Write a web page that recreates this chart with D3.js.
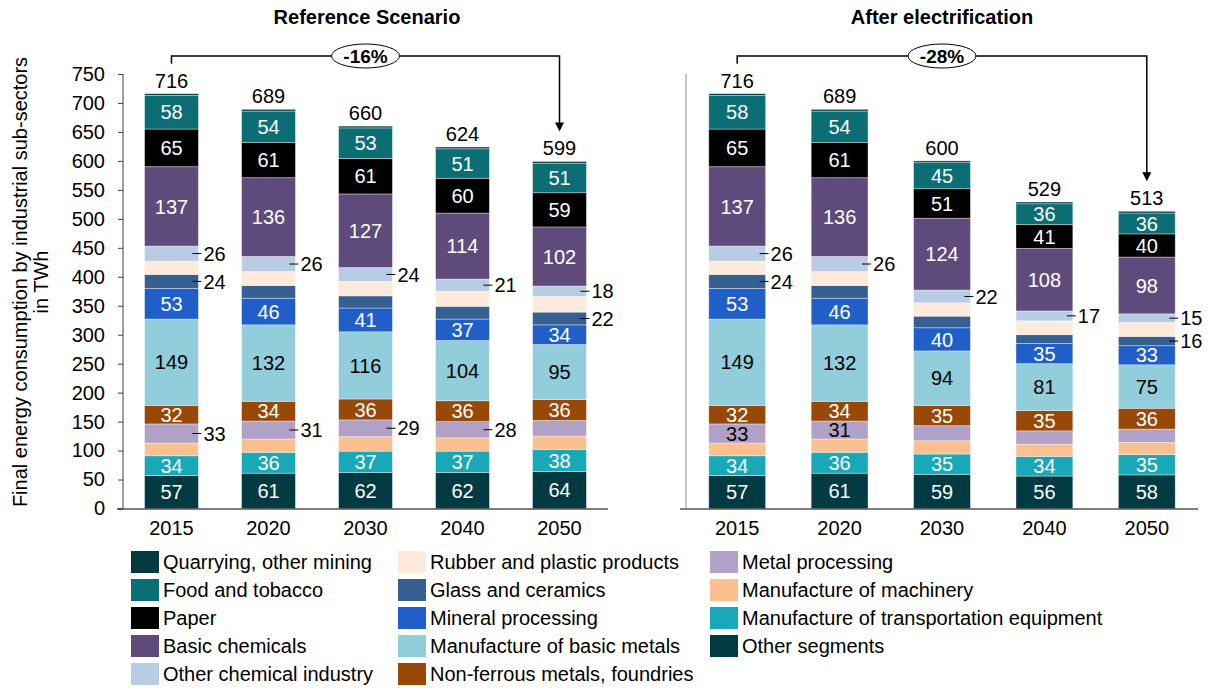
<!DOCTYPE html>
<html>
<head>
<meta charset="utf-8">
<script src="https://cdn.jsdelivr.net/npm/d3@7"></script>
<style>
  html, body { margin: 0; padding: 0; background: #fff; }
  svg { display: block; font-family: "Liberation Sans", Arial, sans-serif; }
</style>
</head>
<body>
<svg id="chart" width="1212" height="689"></svg>
<script>
// ---------------- DATA ----------------
const years = ["2015", "2020", "2030", "2040", "2050"];

// stacking order, bottom -> top
const seriesNames = [
  "Other segments",
  "Manufacture of transportation equipment",
  "Manufacture of machinery",
  "Metal processing",
  "Non-ferrous metals, foundries",
  "Manufacture of basic metals",
  "Mineral processing",
  "Glass and ceramics",
  "Rubber and plastic products",
  "Other chemical industry",
  "Basic chemicals",
  "Paper",
  "Food and tobacco",
  "Quarrying, other mining"
];

const seriesColors = [
  "#023a42", "#19a8b7", "#fac090", "#b2a1c7", "#984807", "#92cddc", "#1f5fc7",
  "#366092", "#fdeada", "#b8cce4", "#5f4b7b", "#000000", "#0b6e74", "#033a40"
];

// legend order (column-major, 3 columns of 5)
const legendOrder = [
  "Quarrying, other mining", "Food and tobacco", "Paper", "Basic chemicals", "Other chemical industry",
  "Rubber and plastic products", "Glass and ceramics", "Mineral processing", "Manufacture of basic metals", "Non-ferrous metals, foundries",
  "Metal processing", "Manufacture of machinery", "Manufacture of transportation equipment", "Other segments"
];

// Reference scenario, one row per series (stack order), one column per year
const refValues = [
  [57, 61, 62, 62, 64],
  [34, 36, 37, 37, 38],
  [22, 23, 25, 23, 23],
  [33, 31, 29, 28, 27],
  [32, 34, 36, 36, 36],
  [149, 132, 116, 104, 95],
  [53, 46, 41, 37, 34],
  [24, 22, 21, 22, 22],
  [23, 24, 25, 26, 27],
  [26, 26, 24, 21, 18],
  [137, 136, 127, 114, 102],
  [65, 61, 61, 60, 59],
  [58, 54, 53, 51, 51],
  [3, 3, 3, 3, 3]
];

// After electrification
const elecValues = [
  [57, 61, 59, 56, 58],
  [34, 36, 35, 34, 35],
  [22, 23, 23, 21, 21],
  [33, 31, 26, 23, 23],
  [32, 34, 35, 35, 36],
  [149, 132, 94, 81, 75],
  [53, 46, 40, 35, 33],
  [24, 22, 20, 15, 16],
  [23, 24, 23, 24, 24],
  [26, 26, 22, 17, 15],
  [137, 136, 124, 108, 98],
  [65, 61, 51, 41, 40],
  [58, 54, 45, 36, 36],
  [3, 3, 3, 3, 3]
];

const refTotals = [716, 689, 660, 624, 599];
const elecTotals = [716, 689, 600, 529, 513];

// which series carry a value label inside the bar (all years)
const insideLabelSeries = ["Other segments", "Manufacture of transportation equipment",
  "Non-ferrous metals, foundries", "Manufacture of basic metals", "Mineral processing",
  "Basic chemicals", "Paper", "Food and tobacco"];
// extra inside labels per year
const refInsideExtra = [[], [], [], [], []];
const elecInsideExtra = [["Metal processing"], ["Metal processing"], [], [], []];
// labels placed beside the bar with a leader line, per year
const refOutside = [
  ["Metal processing", "Glass and ceramics", "Other chemical industry"],
  ["Metal processing", "Other chemical industry"],
  ["Metal processing", "Other chemical industry"],
  ["Metal processing", "Other chemical industry"],
  ["Glass and ceramics", "Other chemical industry"]
];
const elecOutside = [
  ["Glass and ceramics", "Other chemical industry"],
  ["Other chemical industry"],
  ["Other chemical industry"],
  ["Other chemical industry"],
  ["Glass and ceramics", "Other chemical industry"]
];
const darkTextSeries = ["Manufacture of basic metals", "Metal processing"];

const refTitle = "Reference Scenario";
const elecTitle = "After electrification";
const refChange = "-16%";
const elecChange = "-28%";
const yTicks = [0, 50, 100, 150, 200, 250, 300, 350, 400, 450, 500, 550, 600, 650, 700, 750];
const yTitleLines = ["Final energy consumption by industrial sub-sectors", "in TWh"];

// ---------------- DRAW ----------------
const svg = d3.select("#chart");
const FONT = 20;
const color = d3.scaleOrdinal().domain(seriesNames).range(seriesColors);

const y = d3.scaleLinear().domain([0, 750]).range([508.5, 74]);

// y axis title
const yt = svg.append("text")
  .attr("transform", "translate(0," + 282 + ") rotate(-90)")
  .attr("text-anchor", "middle")
  .style("font-size", FONT + "px")
  .attr("fill", "#000");
yt.append("tspan").attr("x", 0).attr("y", 27).text(yTitleLines[0]);
yt.append("tspan").attr("x", 0).attr("y", 48).text(yTitleLines[1]);

function drawPanel(opts) {
  const g = svg.append("g");
  const x = d3.scaleBand().domain(years).range([opts.x0, opts.x1])
    .paddingInner(0.445).paddingOuter(0.2225);

  // build table for stacking
  const table = years.map((yr, i) => {
    const row = { year: yr };
    seriesNames.forEach((s, j) => { row[s] = opts.values[j][i]; });
    return row;
  });
  const stacked = d3.stack().keys(seriesNames)(table);

  // y axis
  const yAxis = g.append("g").attr("transform", "translate(" + opts.yAxisX + ",0)");
  if (opts.showYLabels) {
    yAxis.call(d3.axisLeft(y).tickValues(yTicks).tickSize(5).tickPadding(13).tickFormat(d3.format("d")));
    yAxis.selectAll("text").style("font-size", FONT + "px").attr("fill", "#000");
    yAxis.selectAll("line").attr("stroke", "#404040");
    yAxis.select(".domain").attr("stroke", "#404040").attr("d", "M0," + y(750) + "V" + y(0));
  } else {
    yAxis.append("line").attr("x1", 0).attr("x2", 0).attr("y1", y(750)).attr("y2", y(0))
      .attr("stroke", "#8c8c8c").attr("stroke-width", 1);
  }

  // bars
  const layers = g.append("g").selectAll("g").data(stacked).join("g")
    .attr("fill", d => color(d.key));
  layers.selectAll("rect").data(d => d.map(p => ({ p, key: d.key }))).join("rect")
    .attr("x", d => x(d.p.data.year))
    .attr("width", x.bandwidth())
    .attr("y", d => y(d.p[1]))
    .attr("height", d => Math.max(0, y(d.p[0]) - y(d.p[1])))
    .attr("stroke", "rgba(255,255,255,0.45)")
    .attr("stroke-width", 0.8);

  // x axis line
  g.append("line").attr("x1", opts.xAxisStart).attr("x2", opts.x1)
    .attr("y1", y(0) + 0.5).attr("y2", y(0) + 0.5)
    .attr("stroke", "#000").attr("stroke-width", 1.2);

  // year labels
  g.append("g").selectAll("text").data(years).join("text")
    .attr("x", d => x(d) + x.bandwidth() / 2)
    .attr("y", y(0) + 26)
    .attr("text-anchor", "middle")
    .style("font-size", FONT + "px")
    .text(d => d);

  // value labels
  const lbl = g.append("g");
  stacked.forEach(layer => {
    layer.forEach((p, i) => {
      const inside = insideLabelSeries.includes(layer.key) || opts.insideExtra[i].includes(layer.key);
      const outside = opts.outside[i].includes(layer.key);
      const v = p[1] - p[0];
      const cy = (y(p[0]) + y(p[1])) / 2;
      if (inside) {
        lbl.append("text")
          .attr("x", x(p.data.year) + x.bandwidth() / 2)
          .attr("y", cy)
          .attr("dy", "0.36em")
          .attr("text-anchor", "middle")
          .style("font-size", FONT + "px")
          .attr("fill", darkTextSeries.includes(layer.key) ? "#000" : "#fff")
          .text(v);
      } else if (outside) {
        const xr = x(p.data.year) + x.bandwidth();
        lbl.append("line").attr("x1", xr - 6).attr("x2", xr + 3)
          .attr("y1", cy).attr("y2", cy).attr("stroke", "#000").attr("stroke-width", 1);
        lbl.append("text")
          .attr("x", xr + 5)
          .attr("y", cy)
          .attr("dy", "0.36em")
          .style("font-size", FONT + "px")
          .attr("fill", "#000")
          .text(v);
      }
    });
  });

  // totals
  g.append("g").selectAll("text").data(years).join("text")
    .attr("x", d => x(d) + x.bandwidth() / 2)
    .attr("y", (d, i) => y(opts.totals[i]) - 6)
    .attr("text-anchor", "middle")
    .style("font-size", FONT + "px")
    .text((d, i) => opts.totals[i]);

  // title
  g.append("text")
    .attr("x", opts.titleX).attr("y", 24)
    .attr("text-anchor", "middle")
    .style("font-size", "20px").style("font-weight", "bold")
    .text(opts.title);

  // bracket arrow
  const xa = x(years[0]) + x.bandwidth() / 2;
  const xb = x(years[years.length - 1]) + x.bandwidth() / 2;
  const yTop = 56;
  const ya = y(opts.totals[0]) - 30;
  const yb = y(opts.totals[opts.totals.length - 1]) - 30;
  g.append("path")
    .attr("d", `M${xa},${ya}V${yTop}H${xb}V${yb - 8}`)
    .attr("fill", "none").attr("stroke", "#000").attr("stroke-width", 1.5);
  g.append("path")
    .attr("d", `M${xb - 4.5},${yb - 9}L${xb + 4.5},${yb - 9}L${xb},${yb}Z`)
    .attr("fill", "#000");
  const ex = (xa + xb) / 2;
  g.append("ellipse").attr("cx", ex).attr("cy", yTop).attr("rx", 34).attr("ry", 12)
    .attr("fill", "#fff").attr("stroke", "#000").attr("stroke-width", 1);
  g.append("text").attr("x", ex).attr("y", yTop).attr("dy", "0.36em")
    .attr("text-anchor", "middle")
    .style("font-size", "19px").style("font-weight", "bold")
    .text(opts.change);
}

drawPanel({
  values: refValues, totals: refTotals, outside: refOutside, insideExtra: refInsideExtra,
  x0: 123, x1: 608, yAxisX: 123, xAxisStart: 117, showYLabels: true,
  title: refTitle, titleX: 367, change: refChange
});
drawPanel({
  values: elecValues, totals: elecTotals, outside: elecOutside, insideExtra: elecInsideExtra,
  x0: 686, x1: 1198, yAxisX: 686, xAxisStart: 680, showYLabels: false,
  title: elecTitle, titleX: 942, change: elecChange
});

// legend
const legendCols = [
  { x: 131, items: legendOrder.slice(0, 5) },
  { x: 398, items: legendOrder.slice(5, 10) },
  { x: 710, items: legendOrder.slice(10) }
];
const lg = svg.append("g");
legendCols.forEach(col => {
  col.items.forEach((name, i) => {
    const cy = 562 + i * 28;
    lg.append("rect").attr("x", col.x).attr("y", cy - 11).attr("width", 28).attr("height", 22)
      .attr("fill", color(name));
    lg.append("text").attr("x", col.x + 32).attr("y", cy).attr("dy", "0.36em")
      .style("font-size", FONT + "px").text(name);
  });
});
</script>
</body>
</html>
